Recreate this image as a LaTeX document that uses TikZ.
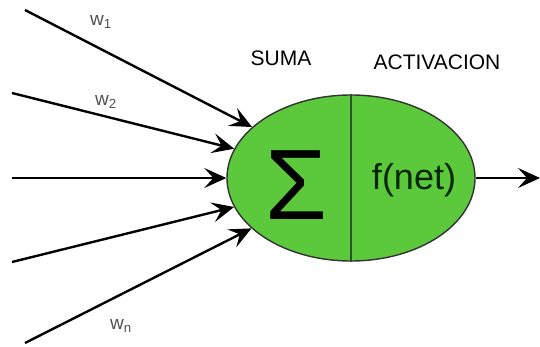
\documentclass[tikz,border=0pt]{standalone}
\usepackage{fontspec}
\setmainfont{Liberation Sans}
\usetikzlibrary{arrows.meta,shapes.geometric}
\definecolor{cellgreen}{RGB}{92,200,60}
\definecolor{darkline}{RGB}{45,80,45}
\definecolor{wgray}{RGB}{80,80,80}

\tikzset{
    synapse/.style={line width=2.4pt, -{Stealth[length=22pt, width=20pt, inset=9pt]}},
    weight/.style={text=wgray, font=\fontsize{19}{19}\selectfont, inner sep=0pt},
    stage/.style={font=\fontsize{21}{21}\selectfont, inner sep=0pt}
}

\begin{document}
\begin{tikzpicture}[x=1pt, y=-1pt]
        \useasboundingbox (0, 0) rectangle (540, 347);

        % neuron body
        \draw (351, 178) node(neuron)[ellipse, draw=black!80, line width=1.4pt, fill=cellgreen,
            minimum width=248pt, minimum height=166pt, inner sep=0pt]{};
        \draw[darkline, line width=2.4pt] (neuron.north) -- (neuron.south);

        \draw (296, 185) node(sum)[inner sep=0pt, font=\fontsize{100}{100}\selectfont]{Σ};
        \draw (414, 180) node(act)[inner sep=0pt, text=black!85!green, font=\fontsize{36}{36}\selectfont]{f(net)};

        \draw (281, 58) node(suma)[stage]{SUMA};
        \draw (437, 62) node(activ)[stage]{ACTIVACION};

        % inputs
        \coordinate (x1) at (25, 10);
        \coordinate (x2) at (12, 93);
        \coordinate (x3) at (12, 178);
        \coordinate (x4) at (12, 262);
        \coordinate (x5) at (25, 343);
        \draw[synapse] (x1) -- (neuron);
        \draw[synapse] (x2) -- (neuron);
        \draw[synapse] (x3) -- (neuron);
        \draw[synapse] (x4) -- (neuron);
        \draw[synapse] (x5) -- (neuron);

        \draw (101, 22) node(w1)[weight]{w\textsubscript{1}};
        \draw (106, 102) node(w2)[weight]{w\textsubscript{2}};
        \draw (121, 326) node(wn)[weight]{w\textsubscript{n}};

        % output
        \coordinate (y) at (540, 178);
        \draw[synapse] (neuron.east) -- (y);
    \end{tikzpicture}
\end{document}
